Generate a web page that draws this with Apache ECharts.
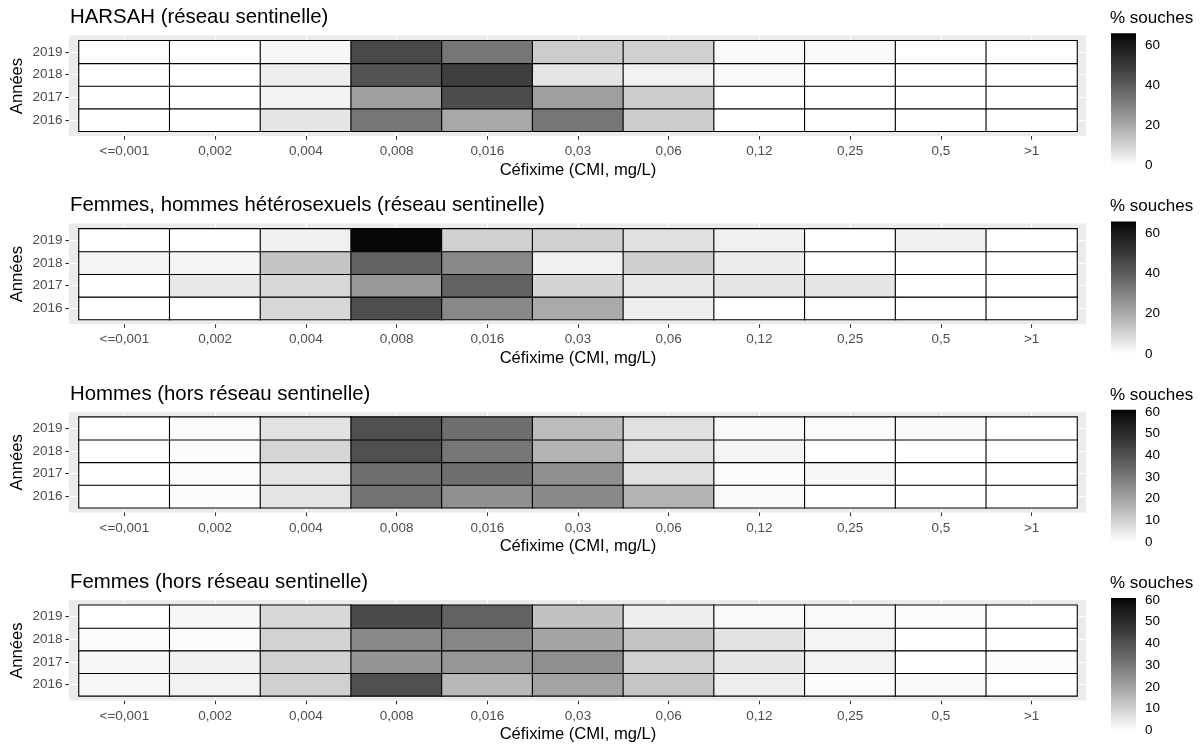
<!DOCTYPE html>
<html>
<head>
<meta charset="utf-8">
<title>Céfixime CMI</title>
<script src="https://cdn.jsdelivr.net/npm/echarts@6/dist/echarts.min.js"></script>
<style>
  html, body { margin: 0; padding: 0; background: #fff; }
  #main { width: 1200px; height: 746px; }
</style>
</head>
<body>
<div id="main"></div>
<script>
// categories
var cmiLabels = ['<=0,001', '0,002', '0,004', '0,008', '0,016', '0,03', '0,06', '0,12', '0,25', '0,5', '>1'];
var years = ['2016', '2017', '2018', '2019'];
var panelTitles = [
  'HARSAH (réseau sentinelle)',
  'Femmes, hommes hétérosexuels (réseau sentinelle)',
  'Hommes (hors réseau sentinelle)',
  'Femmes (hors réseau sentinelle)'
];

// % souches, one row per year (2016 -> 2019), one value per CMI class
var harsah = [
  [0, 0, 5.7, 33.0, 20.6, 33.0, 11.8, 0, 0, 0, 0],
  [0, 0, 3.0, 22.6, 44.4, 22.6, 11.8, 0, 0, 0, 0],
  [0, 0, 3.9, 42.2, 48.1, 6.0, 3.0, 1.3, 0, 0, 0],
  [0, 0, 1.8, 45.3, 33.0, 11.8, 10.9, 1.3, 1.3, 0, 0]
];
var heteroSentinelle = [
  [0, 0, 9.0, 43.8, 28.6, 19.9, 3.9, 0, 0, 0, 0],
  [0, 5.3, 9.0, 24.1, 38.3, 9.7, 5.3, 6.0, 6.0, 0, 0],
  [2.5, 2.5, 13.7, 38.3, 28.6, 3.4, 11.2, 4.4, 0, 0, 0],
  [0, 0, 3.4, 64.5, 10.9, 10.9, 7.1, 3.4, 0, 3.4, 0]
];
var hommesHors = [
  [0, 0.7, 5.7, 31.7, 24.6, 26.0, 16.5, 1.2, 0, 0, 0],
  [0, 0.7, 5.7, 32.5, 32.5, 24.8, 6.6, 0.7, 1.6, 0, 0],
  [0, 0.7, 8.8, 40.5, 30.5, 16.5, 6.6, 2.3, 0, 0, 0],
  [0, 0.7, 6.2, 40.5, 32.5, 14.5, 6.6, 1.2, 0.7, 1.2, 0]
];
var femmesHors = [
  [1.8, 2.7, 10.0, 40.3, 15.4, 20.2, 12.5, 3.6, 0.7, 1.2, 0],
  [1.8, 3.2, 10.0, 23.4, 23.2, 24.8, 10.0, 5.3, 2.7, 0, 0.7],
  [0.7, 0.7, 9.6, 26.5, 26.9, 19.7, 12.7, 6.2, 2.3, 0, 0],
  [0, 1.6, 8.3, 41.8, 35.6, 13.2, 3.6, 1.2, 1.2, 0.7, 0]
];
var panelData = [harsah, heteroSentinelle, hommesHors, femmesHors];

// colour scale limits and legend breaks
var legendMax = [65.7, 65.7, 61.1, 61];
var legendTicks = [
  [0, 20, 40, 60],
  [0, 20, 40, 60],
  [0, 10, 20, 30, 40, 50, 60],
  [0, 10, 20, 30, 40, 50, 60]
];

// white -> black, interpolated in CIELAB like ggplot
function labGrey(t) {
  var L = 100 * (1 - t);
  var Y = L > 8 ? Math.pow((L + 16) / 116, 3) : L / 903.3;
  var s = Y <= 0.0031308 ? 12.92 * Y : 1.055 * Math.pow(Y, 1 / 2.4) - 0.055;
  var g = Math.max(0, Math.min(255, Math.round(255 * s)));
  return 'rgb(' + g + ',' + g + ',' + g + ')';
}
var ramp = [], stops = [];
for (var k = 0; k <= 32; k++) {
  ramp.push(labGrey(k / 32));
  stops.push({ offset: k / 32, color: labGrey(k / 32) });
}

var chart = echarts.init(document.getElementById('main'));
var font = "'Liberation Sans', Arial, sans-serif";

var titles = [], grids = [], xAxes = [], yAxes = [], series = [], visualMaps = [];

function catAxis(data, gridIndex, position, offset, extra) {
  var a = {
    type: 'category', data: data, gridIndex: gridIndex, position: position, offset: offset,
    axisLine: { show: false },
    axisTick: { show: false },
    axisLabel: { show: false },
    splitLine: { show: false }
  };
  for (var key in extra) a[key] = extra[key];
  return a;
}

function makeGrid(left, top, width, height, extra) {
  var gr = { left: left, top: top, width: width, height: height, show: false,
    containLabel: false, outerBoundsMode: 'none' };
  for (var key in extra) gr[key] = extra[key];
  return gr;
}

panelData.forEach(function (rows, i) {
  var o = i * 188.2;

  titles.push({
    text: panelTitles[i], left: 70, top: o + 7.5, padding: 0,
    textStyle: { fontFamily: font, fontSize: 20.4, fontWeight: 'normal', color: '#000' }
  });
  titles.push({
    text: '% souches', left: 1110, top: o + 10, padding: 0,
    textStyle: { fontFamily: font, fontSize: 17, fontWeight: 'normal', color: '#000' }
  });

  // grey panel background
  var gOuter = grids.length;
  grids.push(makeGrid(69, o + 35.3, 1017, 100.7, { show: true, backgroundColor: '#EBEBEB', borderWidth: 0, z: -1 }));
  xAxes.push({ type: 'value', gridIndex: gOuter, show: false });
  yAxes.push({ type: 'value', gridIndex: gOuter, show: false });

  // tile area
  var g = grids.length;
  grids.push(makeGrid(79, o + 40.7, 998, 90.6));

  var whiteTick = { show: true, interval: 0, alignWithLabel: true, lineStyle: { color: '#fff', width: 1.1 } };

  var xi = xAxes.length;
  // white grid-line stubs below / above the tiles
  xAxes.push(catAxis(cmiLabels, g, 'bottom', 0, { axisTick: Object.assign({ length: 5 }, whiteTick) }));
  xAxes.push(catAxis(cmiLabels, g, 'top', 0, { axisTick: Object.assign({ length: 5.4 }, whiteTick) }));
  // visible axis
  xAxes.push(catAxis(cmiLabels, g, 'bottom', 4.7, {
    axisTick: { show: true, interval: 0, alignWithLabel: true, length: 3.7, lineStyle: { color: '#333', width: 1.1 } },
    axisLabel: { show: true, interval: 0, margin: 8.5, fontFamily: font, fontSize: 13.5, color: '#4D4D4D' },
    name: 'Céfixime (CMI, mg/L)', nameLocation: 'middle', nameGap: 25.5, nameMoveOverlap: false,
    nameTextStyle: { fontFamily: font, fontSize: 16.6, color: '#000' }
  }));

  var yi = yAxes.length;
  yAxes.push(catAxis(years, g, 'left', 0, { axisTick: Object.assign({ length: 10 }, whiteTick) }));
  yAxes.push(catAxis(years, g, 'right', 0, { axisTick: Object.assign({ length: 9 }, whiteTick) }));
  yAxes.push(catAxis(years, g, 'left', 10, {
    axisTick: { show: true, interval: 0, alignWithLabel: true, length: 3.7, lineStyle: { color: '#333', width: 1.1 } },
    axisLabel: { show: true, interval: 0, margin: 6.5, fontFamily: font, fontSize: 13.5, color: '#4D4D4D' },
    name: 'Années', nameLocation: 'middle', nameGap: 43, nameRotate: 90, nameMoveOverlap: false,
    nameTextStyle: { fontFamily: font, fontSize: 16.6, color: '#000' }
  }));

  var cells = [];
  rows.forEach(function (row, yIdx) {
    row.forEach(function (v, xIdx) { cells.push([xIdx, yIdx, v]); });
  });
  series.push({
    type: 'heatmap', xAxisIndex: xi, yAxisIndex: yi, data: cells,
    itemStyle: { borderColor: '#000', borderWidth: 1.1 },
    emphasis: { disabled: true }, silent: true
  });
  visualMaps.push({
    type: 'continuous', show: false, min: 0, max: legendMax[i], dimension: 2,
    seriesIndex: i, inRange: { color: ramp }
  });
});

// colour bars
panelData.forEach(function (rows, i) {
  var o = i * 188.2;
  var g = grids.length;
  grids.push(makeGrid(1111, o + 33.3, 25, 132.4));
  var xi = xAxes.length;
  xAxes.push({ type: 'category', data: [''], gridIndex: g, show: false });
  var yi = yAxes.length;
  yAxes.push({
    type: 'value', gridIndex: g, position: 'right', min: 0, max: legendMax[i],
    axisLine: { show: false }, splitLine: { show: false },
    axisTick: { show: true, inside: true, length: 5, customValues: legendTicks[i], lineStyle: { color: '#fff', width: 1.1 } },
    axisLabel: { show: true, margin: 9, customValues: legendTicks[i], fontFamily: font, fontSize: 13.5, color: '#000' }
  });
  yAxes.push({
    type: 'value', gridIndex: g, position: 'left', min: 0, max: legendMax[i],
    axisLine: { show: false }, splitLine: { show: false },
    axisTick: { show: true, inside: true, length: 5, customValues: legendTicks[i], lineStyle: { color: '#fff', width: 1.1 } },
    axisLabel: { show: false }
  });
  series.push({
    type: 'bar', xAxisIndex: xi, yAxisIndex: yi, data: [legendMax[i]], barWidth: '100%',
    silent: true, z: 1,
    itemStyle: { color: new echarts.graphic.LinearGradient(0, 1, 0, 0, stops) }
  });
});

chart.setOption({
  backgroundColor: '#fff',
  animation: false,
  textStyle: { fontFamily: font },
  title: titles,
  grid: grids,
  xAxis: xAxes,
  yAxis: yAxes,
  visualMap: visualMaps,
  series: series
});
</script>
</body>
</html>
